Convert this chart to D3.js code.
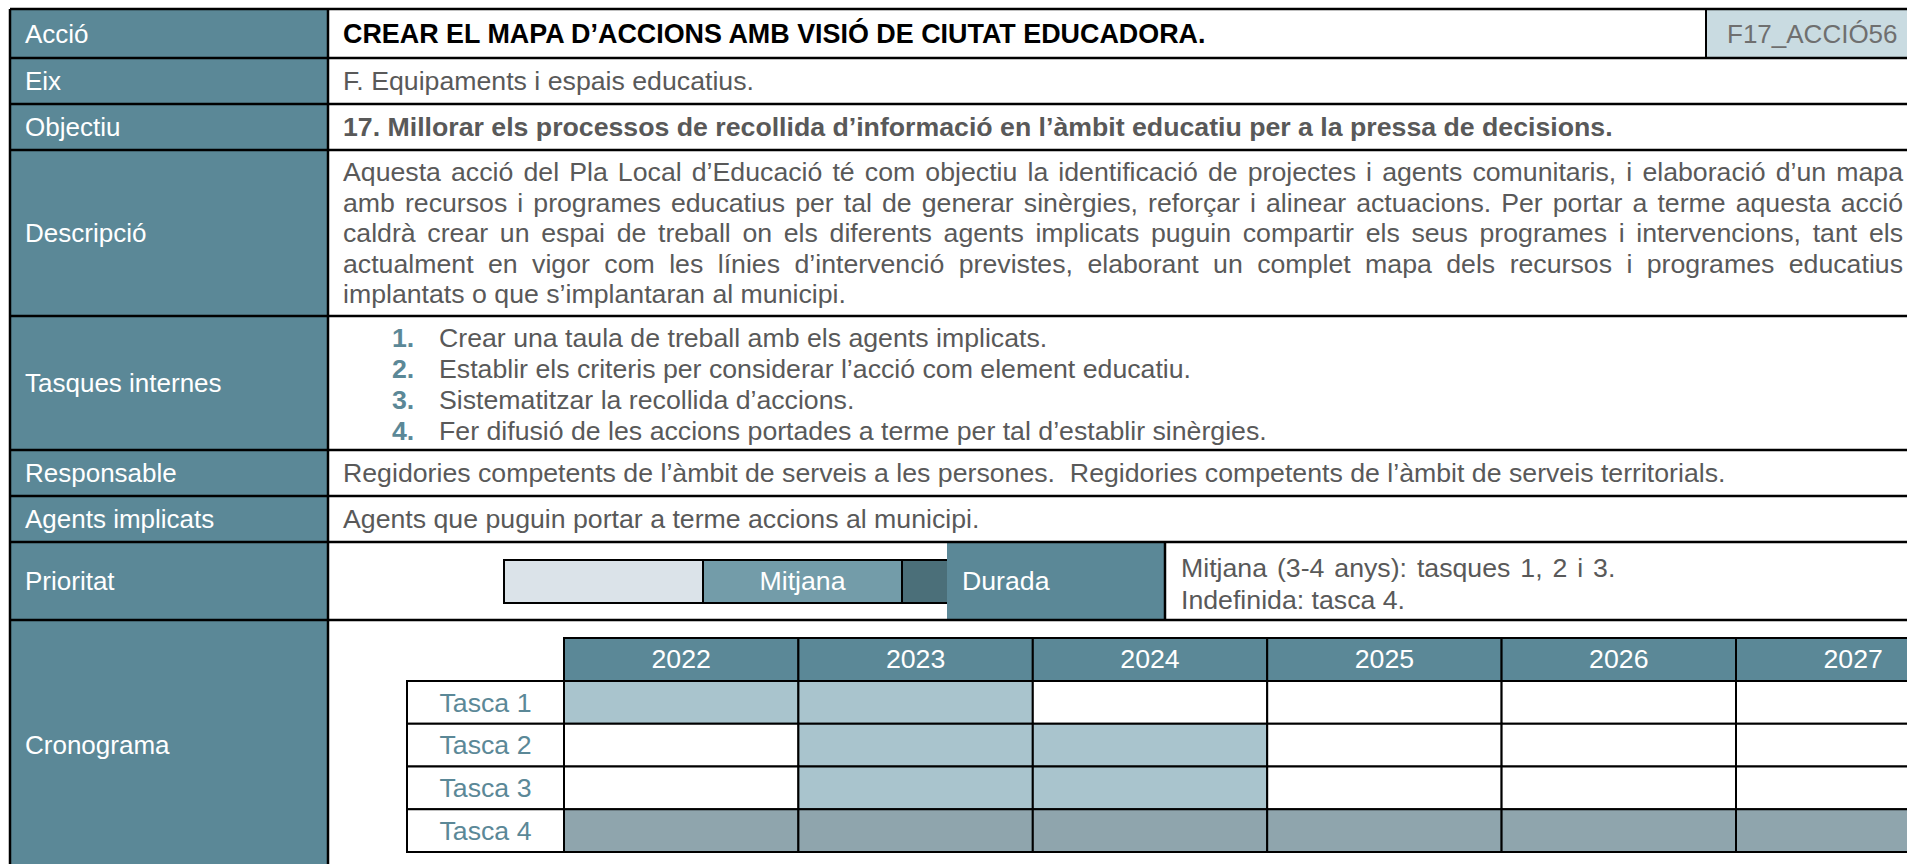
<!DOCTYPE html>
<html><head><meta charset="utf-8">
<script src="https://cdn.jsdelivr.net/npm/d3@7"></script>
<style>
body{margin:0;background:#fff;overflow:hidden}
text{font-family:"Liberation Sans",Arial,Helvetica,sans-serif;}
</style>
</head><body>
<svg id="c" width="1907" height="864"></svg>
<script>
// ---------- DATA ----------
const rowLabels = ["Acció","Eix","Objectiu","Descripció","Tasques internes","Responsable","Agents implicats","Prioritat","Cronograma"];
const actionTitle = "CREAR EL MAPA D’ACCIONS AMB VISIÓ DE CIUTAT EDUCADORA.";
const actionCode = "F17_ACCIÓ56";
const axisText = "F. Equipaments i espais educatius.";
const objectiveText = "17. Millorar els processos de recollida d’informació en l’àmbit educatiu per a la pressa de decisions.";
const descriptionLines = [
  "Aquesta acció del Pla Local d’Educació té com objectiu la identificació de projectes i agents comunitaris, i elaboració d’un mapa",
  "amb recursos i programes educatius per tal de generar sinèrgies, reforçar i alinear actuacions. Per portar a terme aquesta acció",
  "caldrà crear un espai de treball on els diferents agents implicats puguin compartir els seus programes i intervencions, tant els",
  "actualment en vigor com les línies d’intervenció previstes, elaborant un complet mapa dels recursos i programes educatius",
  "implantats o que s’implantaran al municipi."
];
const internalTasks = [
  "Crear una taula de treball amb els agents implicats.",
  "Establir els criteris per considerar l’acció com element educatiu.",
  "Sistematitzar la recollida d’accions.",
  "Fer difusió de les accions portades a terme per tal d’establir sinèrgies."
];
const responsibleText = "Regidories competents de l’àmbit de serveis a les persones.  Regidories competents de l’àmbit de serveis territorials.";
const agentsText = "Agents que puguin portar a terme accions al municipi.";
const priorityLevels = ["Baixa","Mitjana","Alta"];
const selectedPriority = "Mitjana";
const durationLabel = "Durada";
const durationLines = ["Mitjana (3-4 anys): tasques 1, 2 i 3.","Indefinida: tasca 4."];
const years = ["2022","2023","2024","2025","2026","2027"];
const tasks = ["Tasca 1","Tasca 2","Tasca 3","Tasca 4"];
// 0 = no activity, 1 = scheduled, 2 = ongoing (indefinite)
const schedule = [
  [1,1,0,0,0,0],
  [0,1,1,0,0,0],
  [0,1,1,0,0,0],
  [2,2,2,2,2,2]
];

// ---------- STYLE / LAYOUT ----------
const C = {
  teal:"#5b8897", light:"#a9c4cd", ongoing:"#8fa5ad", code:"#c9dbe1",
  pLow:"#dbe3e9", pMid:"#739ca9", pHigh:"#4b6f79",
  text:"#595959", codeText:"#6f6f6f", black:"#000"
};
const FS = 26.7;
const X0 = 10, XL = 328, XR = 1917, XT = 343;
const rowY = [9,58,104,150,316,450,496,542,620,870];

const svg = d3.select("#c");
const g = svg.append("g");

// label column
const rows = rowLabels.map((l,i)=>({label:l, y0:rowY[i], y1:rowY[i+1]}));
g.selectAll("rect.lab").data(rows).join("rect")
  .attr("x",X0).attr("y",d=>d.y0).attr("width",XL-X0).attr("height",d=>d.y1-d.y0)
  .attr("fill",C.teal);
g.selectAll("text.lab").data(rows).join("text")
  .attr("x",25).attr("y",d=>(d.y0+d.y1)/2+9.3)
  .attr("fill","#fff").attr("font-size",26).text(d=>d.label);

// code cell
g.append("rect").attr("x",1706).attr("y",rowY[0]).attr("width",XR-1706).attr("height",rowY[1]-rowY[0]).attr("fill",C.code);
g.append("line").attr("x1",1706).attr("x2",1706).attr("y1",rowY[0]).attr("y2",rowY[1]).attr("stroke",C.black).attr("stroke-width",2);
g.append("text").attr("x",1727).attr("y",43).attr("font-size",26).attr("fill",C.codeText).text(actionCode);

// row 1-3 texts
g.append("text").attr("x",XT).attr("y",43).attr("font-size",FS+0.2).attr("font-weight","bold").attr("fill",C.black).text(actionTitle);
g.append("text").attr("x",XT).attr("y",90).attr("font-size",FS).attr("fill",C.text).text(axisText);
g.append("text").attr("x",XT).attr("y",136).attr("font-size",FS).attr("font-weight","bold").attr("fill",C.text).text(objectiveText);

// description (justified)
const justifyW = 1903 - XT;
descriptionLines.forEach((line,i)=>{
  const y = 181 + i*30.6;
  const words = line.split(" ");
  const t = g.append("text").attr("y",y).attr("font-size",FS).attr("fill",C.text);
  if(i === descriptionLines.length-1){ t.attr("x",XT).text(line); return; }
  const spans = t.selectAll("tspan").data(words).join("tspan").text(d=>d);
  const widths = spans.nodes().map(n=>n.getComputedTextLength());
  const total = d3.sum(widths);
  const gap = (justifyW-total)/(words.length-1);
  let x = XT;
  spans.each(function(d,k){ d3.select(this).attr("x",x); x += widths[k]+gap; });
});

// internal tasks
internalTasks.forEach((task,i)=>{
  const y = 347 + i*31;
  g.append("text").attr("x",392).attr("y",y).attr("font-size",FS).attr("font-weight","bold").attr("fill",C.teal).text((i+1)+".");
  g.append("text").attr("x",439).attr("y",y).attr("font-size",FS).attr("fill",C.text).text(task);
});

g.append("text").attr("x",XT).attr("y",482).attr("font-size",FS).attr("fill",C.text).attr("xml:space","preserve").style("white-space","pre").text(responsibleText);
g.append("text").attr("x",XT).attr("y",528).attr("font-size",FS).attr("fill",C.text).text(agentsText);

// priority bar
const px = d3.scaleBand().domain(priorityLevels).range([504,1101]);
const pCol = d3.scaleOrdinal().domain(priorityLevels).range([C.pLow,C.pMid,C.pHigh]);
g.selectAll("rect.pr").data(priorityLevels).join("rect")
  .attr("x",d=>px(d)).attr("y",560).attr("width",px.bandwidth()).attr("height",43)
  .attr("fill",d=>pCol(d)).attr("stroke",C.black).attr("stroke-width",2);
g.append("text").attr("x",px(selectedPriority)+px.bandwidth()/2).attr("y",590)
  .attr("text-anchor","middle").attr("font-size",FS).attr("fill","#fff").text(selectedPriority);
// durada
g.append("rect").attr("x",947).attr("y",rowY[7]).attr("width",1165-947).attr("height",rowY[8]-rowY[7]).attr("fill",C.teal);
g.append("line").attr("x1",1165).attr("x2",1165).attr("y1",rowY[7]).attr("y2",rowY[8]).attr("stroke",C.black).attr("stroke-width",2.5);
g.append("text").attr("x",962).attr("y",590).attr("font-size",FS).attr("fill","#fff").text(durationLabel);
durationLines.forEach((l,i)=>{
  g.append("text").attr("x",1181).attr("y",577+i*32).attr("font-size",FS)
    .attr("word-spacing", i===0 ? 2.5 : 0).attr("fill",C.text).text(l);
});

// gantt
const xs = d3.scaleBand().domain(years).range([564, 564+6*234.4]);
const ys = d3.scaleBand().domain(tasks).range([681,852]);
const hdrY = 638;
g.selectAll("rect.hdr").data(years).join("rect")
  .attr("x",d=>xs(d)).attr("y",hdrY).attr("width",xs.bandwidth()).attr("height",681-hdrY)
  .attr("fill",C.teal).attr("stroke",C.black).attr("stroke-width",2);
g.selectAll("text.hdr").data(years).join("text")
  .attr("x",d=>xs(d)+xs.bandwidth()/2).attr("y",668).attr("text-anchor","middle")
  .attr("font-size",FS).attr("fill","#fff").text(d=>d);
g.selectAll("rect.tl").data(tasks).join("rect")
  .attr("x",407).attr("y",d=>ys(d)).attr("width",564-407).attr("height",ys.bandwidth())
  .attr("fill","#fff").attr("stroke",C.black).attr("stroke-width",2);
g.selectAll("text.tl").data(tasks).join("text")
  .attr("x",(407+564)/2).attr("y",d=>ys(d)+ys.bandwidth()/2+9.3).attr("text-anchor","middle")
  .attr("font-size",FS).attr("fill",C.teal).text(d=>d);
const cells = [];
schedule.forEach((r,i)=>r.forEach((v,j)=>cells.push({t:tasks[i],y:years[j],v})));
const cellCol = v => v===1 ? C.light : v===2 ? C.ongoing : "#fff";
g.selectAll("rect.cell").data(cells).join("rect")
  .attr("x",d=>xs(d.y)).attr("y",d=>ys(d.t)).attr("width",xs.bandwidth()).attr("height",ys.bandwidth())
  .attr("fill",d=>cellCol(d.v)).attr("stroke",C.black).attr("stroke-width",2);

// main grid lines
g.selectAll("line.h").data(rowY).join("line")
  .attr("x1",X0).attr("x2",XR).attr("y1",d=>d).attr("y2",d=>d)
  .attr("stroke",C.black).attr("stroke-width",2.5);
[X0,XL,XR].forEach(x=>g.append("line").attr("x1",x).attr("x2",x).attr("y1",rowY[0]).attr("y2",rowY[rowY.length-1]).attr("stroke",C.black).attr("stroke-width",2.5));
</script>
</body></html>
